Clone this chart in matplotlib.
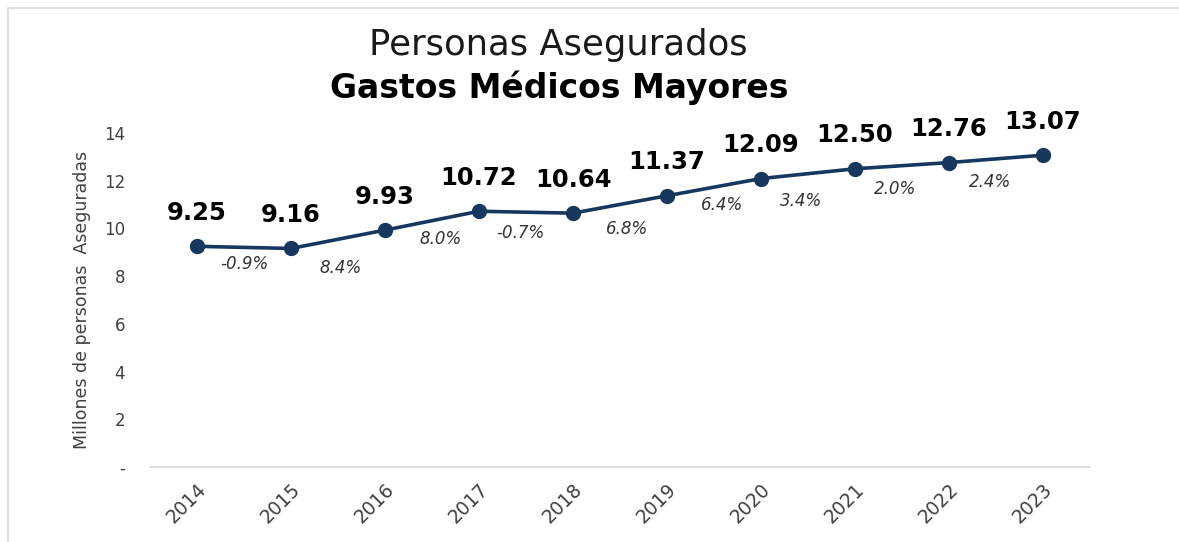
import matplotlib.pyplot as plt
from matplotlib.patches import Rectangle

years = ["2014", "2015", "2016", "2017", "2018", "2019", "2020", "2021", "2022", "2023"]
personas = [9.25, 9.16, 9.93, 10.72, 10.64, 11.37, 12.09, 12.50, 12.76, 13.07]
crecimiento = ["-0.9%", "8.4%", "8.0%", "-0.7%", "6.8%", "6.4%", "3.4%", "2.0%", "2.4%"]
yticks = [0, 2, 4, 6, 8, 10, 12, 14]
ytick_labels = ["-", "2", "4", "6", "8", "10", "12", "14"]

plt.rcParams['font.family'] = ['DejaVu Sans']
navy = '#17375e'

fig = plt.figure(figsize=(11.79, 5.42), dpi=100)
fig.patch.set_facecolor('white')
# light frame around the chart area (top and left edges visible)
fig.patches.append(Rectangle((8 / 1179, -0.05), 1.2, (542 - 8) / 542 + 0.05,
                             transform=fig.transFigure, fill=False,
                             edgecolor='#d9d9d9', linewidth=1.2))

ax = fig.add_axes([150 / 1179, 75 / 542, 940 / 1179, 334 / 542])
x = list(range(len(years)))
ax.plot(x, personas, color=navy, linewidth=2.6, marker='o', markersize=10,
        solid_capstyle='round', zorder=3)

ax.set_xlim(-0.5, len(years) - 0.5)
ax.set_ylim(0, 14)
ax.set_yticks(yticks)
ax.set_yticklabels(ytick_labels, fontsize=12, color='#404040')
ax.set_xticks(x)
ax.set_xticklabels(years, rotation=45, ha='right', rotation_mode='anchor',
                   fontsize=13.5, color='#404040')
ax.tick_params(axis='both', length=0)
ax.tick_params(axis='y', pad=18)
ax.tick_params(axis='x', pad=9)
for s in ['top', 'right', 'left']:
    ax.spines[s].set_visible(False)
ax.spines['bottom'].set_color('#d9d9d9')
ax.spines['bottom'].set_linewidth(1.2)

ax.set_ylabel('Millones de personas  Aseguradas', fontsize=12.5, color='#404040',
              labelpad=9)

# value labels above each point
for xi, v in zip(x, personas):
    ax.annotate(f"{v:.2f}", (xi, v), xytext=(0, 24), textcoords='offset points',
                ha='center', va='center', fontsize=17.5, fontweight='bold',
                color='black', clip_on=False)

# growth labels between points
dx = [0, 2, 6, -4, 5, 6, -5, -5, -4]
dy = [-12, -21, -13, -15, -18, -13, -20, -17, -17]
for i, lab in enumerate(crecimiento):
    xm = (x[i] + x[i + 1]) / 2
    ym = (personas[i] + personas[i + 1]) / 2
    ax.annotate(lab, (xm, ym), xytext=(dx[i], dy[i]), textcoords='offset points',
                ha='center', va='center', fontsize=12, fontstyle='italic',
                color='#333333')

fig.text(558 / 1179, 1 - 45 / 542, 'Personas Asegurados', ha='center', va='center',
         fontsize=25.5, color='#1a1a1a')
fig.text(559 / 1179, 1 - 88 / 542, 'Gastos Médicos Mayores', ha='center', va='center',
         fontsize=23.8, fontweight='bold', color='black')

fig.savefig('out.png', dpi=100, facecolor='white')
